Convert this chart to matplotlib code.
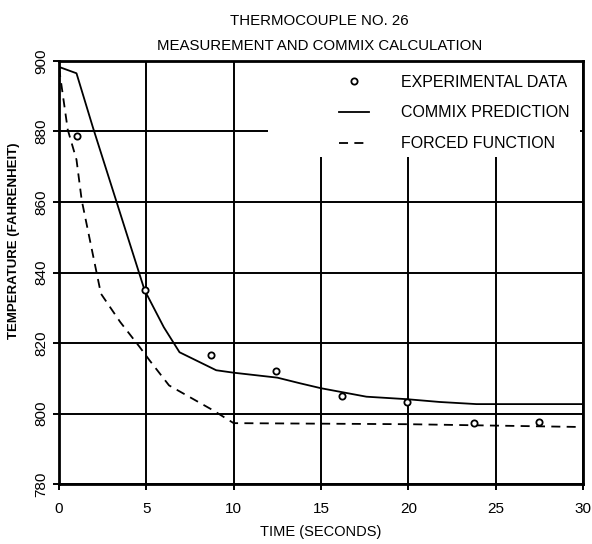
import numpy as np
import matplotlib.pyplot as plt
from matplotlib.patches import Rectangle

plt.rcParams['font.family'] = ['Liberation Sans', 'DejaVu Sans']

# experimental data
exp_t = [1.05, 4.9, 8.7, 12.45, 16.2, 19.9, 23.75, 27.5]
exp_T = [878.8, 835.0, 816.6, 812.0, 805.0, 803.3, 797.3, 797.6]

# COMMIX prediction
com_t = [0.0, 1.0, 1.95, 4.9, 6.0, 6.9, 9.0, 10.0, 12.5, 13.8, 15.0, 17.6, 19.9, 21.8, 23.9, 30.0]
com_T = [898.3, 896.5, 881.0, 835.0, 824.5, 817.4, 812.3, 811.6, 810.2, 808.6, 807.2, 804.8, 804.1, 803.3, 802.7, 802.7]

# forced function
frc_t = [0.0, 0.5, 1.0, 1.3, 2.15, 2.4, 3.5, 4.6, 5.2, 6.3, 8.8, 10.0, 20.0, 30.0]
frc_T = [898.0, 880.5, 872.0, 860.5, 840.0, 834.0, 826.0, 819.0, 815.0, 808.0, 801.0, 797.3, 797.0, 796.2]

xticks = [0, 5, 10, 15, 20, 25, 30]
yticks = [780, 800, 820, 840, 860, 880, 900]

fig = plt.figure(figsize=(5.92, 5.44), dpi=100)
ax = fig.add_axes([0.0997, 0.110, 0.885, 0.778])

ax.set_xlim(0, 30)
ax.set_ylim(780, 900)
ax.set_xticks(xticks)
ax.set_yticks(yticks)
ax.grid(True, color='black', linewidth=1.4, zorder=1)
ax.tick_params(axis='both', direction='out', length=4, width=1.4, labelsize=11, color='black')
ax.tick_params(axis='x', pad=9)
for lab in ax.get_yticklabels():
    lab.set_rotation(90)
    lab.set_va('center')
for s in ax.spines.values():
    s.set_linewidth(2)

# white block behind the legend (hides part of the grid as in the original)
ax.add_patch(Rectangle((0.399, 0.773), 0.595, 0.227, transform=ax.transAxes,
                       facecolor='white', edgecolor='none', zorder=2))

ax.plot(com_t, com_T, color='black', linewidth=1.3, zorder=3, label='COMMIX PREDICTION')
ax.plot(frc_t, frc_T, color='black', linewidth=1.3, linestyle=(0, (5, 3.5)), zorder=3,
        label='FORCED FUNCTION')
ax.plot(exp_t, exp_T, linestyle='none', marker='o', markersize=4.5, markerfacecolor='white',
        markeredgecolor='black', markeredgewidth=1.3, zorder=4, label='EXPERIMENTAL DATA')

h, l = ax.get_legend_handles_labels()
order = [2, 0, 1]
leg = ax.legend([h[i] for i in order], [l[i] for i in order], loc='upper right',
                frameon=False, fontsize=11.5, handlelength=1.9, labelspacing=1.0,
                borderaxespad=0.45, handletextpad=2.0)
leg.set_zorder(5)

ax.set_xlabel('TIME (SECONDS)', fontsize=10.5)
ax.xaxis.set_label_coords(0.5, -0.096)
ax.set_ylabel('TEMPERATURE (FAHRENHEIT)', fontsize=9.5, fontweight='bold')
ax.yaxis.set_label_coords(-0.074, 0.574)
fig.text(0.54, 0.962, 'THERMOCOUPLE NO. 26', ha='center', va='center', fontsize=10.8)
fig.text(0.54, 0.915, 'MEASUREMENT AND COMMIX CALCULATION', ha='center', va='center', fontsize=10.8)

fig.savefig('out.png', dpi=100)
